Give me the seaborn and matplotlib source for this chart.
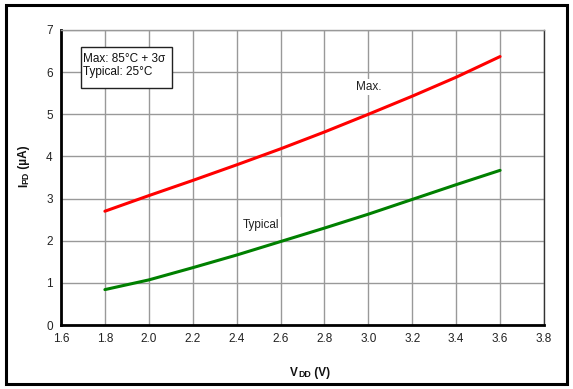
import matplotlib
matplotlib.use('Agg')
import matplotlib.pyplot as plt
import matplotlib.patches as patches
import pandas as pd
import seaborn as sns

# data
vdd = [1.8, 2.0, 2.2, 2.4, 2.6, 2.8, 3.0, 3.2, 3.4, 3.6]
ipd_max = [2.70, 3.07, 3.43, 3.80, 4.18, 4.58, 5.00, 5.43, 5.88, 6.37]
ipd_typ = [0.84, 1.07, 1.36, 1.66, 1.98, 2.30, 2.63, 2.98, 3.33, 3.67]
x_ticks = [1.6, 1.8, 2.0, 2.2, 2.4, 2.6, 2.8, 3.0, 3.2, 3.4, 3.6, 3.8]
y_ticks = [0, 1, 2, 3, 4, 5, 6, 7]

df = pd.DataFrame({
    'VDD': vdd * 2,
    'IPD': ipd_max + ipd_typ,
    'curve': ['Max.'] * len(vdd) + ['Typical'] * len(vdd),
})

sns.set_style('white')
plt.rcParams['font.family'] = ['Liberation Sans', 'DejaVu Sans']

W, H = 573, 389
fig = plt.figure(figsize=(W / 100, H / 100), dpi=100)
ax = fig.add_axes([61 / W, 1 - 325 / H, 483 / W, 295 / H])

sns.lineplot(data=df, x='VDD', y='IPD', hue='curve',
             palette={'Max.': '#ff0000', 'Typical': '#008000'},
             linewidth=2.2, legend=False, ax=ax, zorder=3)

ax.set_xlim(1.6, 3.8)
ax.set_ylim(0, 7)
ax.set_xticks(x_ticks)
ax.set_xticklabels([f'{t:.1f}' for t in x_ticks])
ax.set_yticks(y_ticks)
ax.tick_params(length=0, labelsize=8.5, pad=6, colors='#222222')
ax.grid(True, color='#999999', linewidth=1)
ax.set_xlabel('')
ax.set_ylabel('')

for s in ['left', 'bottom']:
    ax.spines[s].set_color('black')
    ax.spines[s].set_linewidth(2)
ax.spines['top'].set_color('#999999')
ax.spines['top'].set_linewidth(1)
ax.spines['right'].set_color('#333333')
ax.spines['right'].set_linewidth(1)

# axis labels with small-caps style "DD" / "PD"
lab = dict(fontsize=8.5, fontweight='bold', color='#111111')
sml = dict(fontsize=6.3, fontweight='bold', color='#111111')
t1 = fig.text(290 / W, 1 - 376 / H, 'V', va='baseline', **lab)
t2 = ax.annotate('DD', xy=(1, 0), xycoords=t1, va='bottom', annotation_clip=False, **sml)
ax.annotate(' (V)', xy=(1, 0), xycoords=t2, va='bottom', annotation_clip=False, **lab)

r1 = fig.text(30 / W, 1 - 187 / H, 'I', rotation=90, ha='right', va='bottom', **lab)
r2 = ax.annotate('PD', xy=(1, 1), xycoords=r1, rotation=90, ha='right', va='bottom',
                 annotation_clip=False, **sml)
ax.annotate(' (µA)', xy=(1, 1), xycoords=r2, rotation=90, ha='right', va='bottom',
            annotation_clip=False, **lab)

ax.text(3.0, 5.65, 'Max.', fontsize=8.5, ha='center', va='center', color='#222222',
        bbox=dict(facecolor='white', edgecolor='none', pad=1.5), zorder=4)
ax.text(2.51, 2.38, 'Typical', fontsize=8.5, ha='center', va='center', color='#222222',
        bbox=dict(facecolor='white', edgecolor='none', pad=1.5), zorder=4)

# condition box
ax.add_patch(patches.Rectangle((1.691, 5.624), 0.415, 0.973, facecolor='white',
                               edgecolor='#222222', linewidth=1, zorder=5))
ax.text(1.702, 6.46, 'Max: 85°C + 3σ\nTypical: 25°C', fontsize=8.5, ha='left', va='top',
        linespacing=1.12, color='#111111', zorder=6)

fig.patches.append(patches.Rectangle((6 / W, 5 / H), 561 / W, 379 / H,
                                     transform=fig.transFigure, fill=False,
                                     edgecolor='black', linewidth=2.2))

fig.savefig('out.png', dpi=100)
